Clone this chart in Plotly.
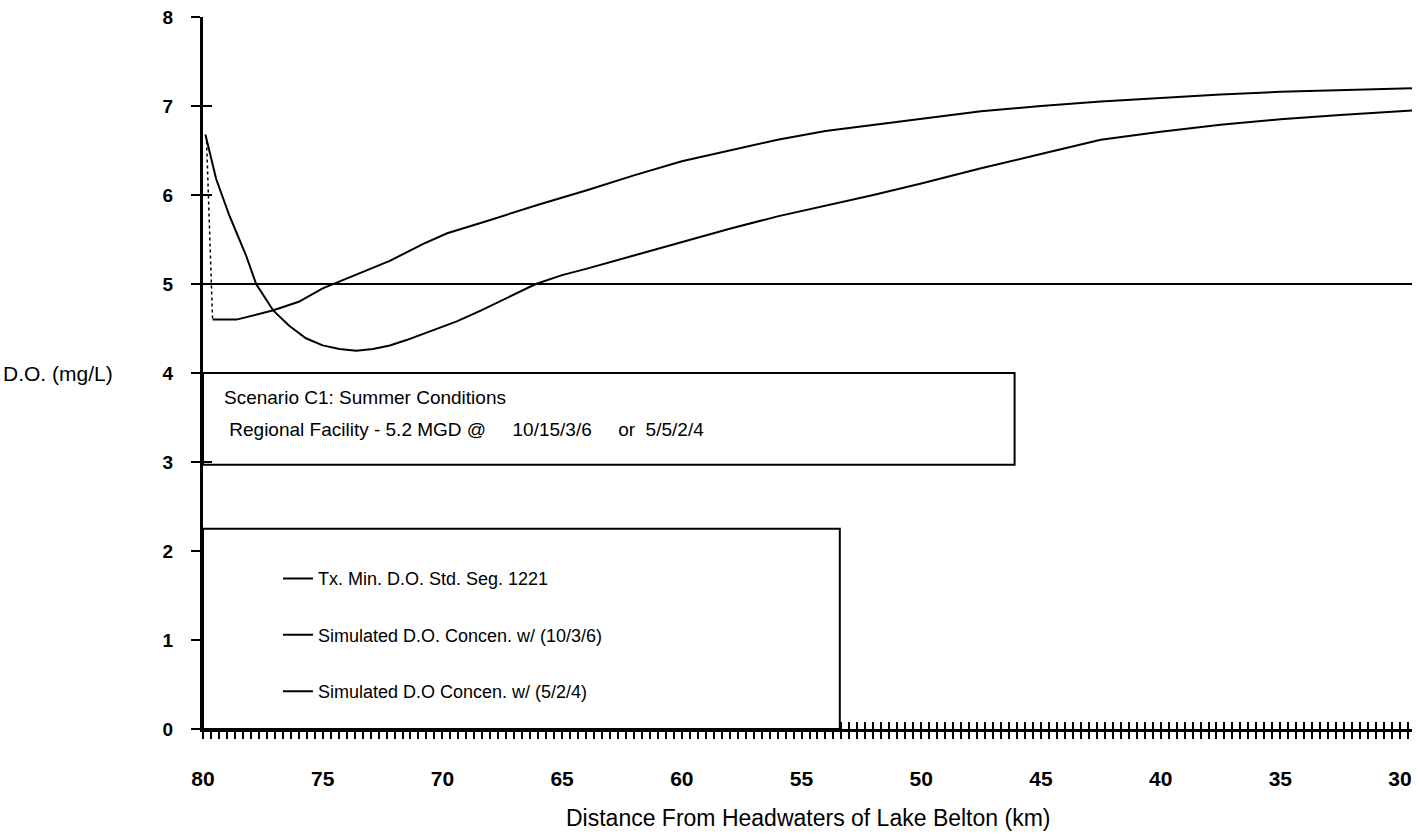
import plotly.graph_objects as go

# Distance from headwaters (km) and dissolved oxygen (mg/L)
km_std = [80.0, 29.5]
do_std = [5.0, 5.0]

km_a = [79.9, 79.45, 78.9, 78.2, 77.78, 77.06, 76.4, 75.7, 75.0, 74.3, 73.6, 72.9,
        72.2, 71.5, 70.8, 70.1, 69.4, 68.4, 67.3, 66.1, 65.0, 64.0, 62.0, 60.0,
        58.0, 56.0, 54.0, 52.0, 50.0, 47.5, 45.0, 42.5, 40.0, 37.5, 35.0, 32.5,
        30.0, 29.5]
do_a = [6.68, 6.18, 5.77, 5.32, 5.0, 4.70, 4.53, 4.39, 4.31, 4.27, 4.25, 4.27,
        4.31, 4.37, 4.44, 4.51, 4.58, 4.70, 4.84, 5.0, 5.1, 5.17, 5.32, 5.47,
        5.62, 5.76, 5.88, 6.0, 6.13, 6.3, 6.46, 6.62, 6.71, 6.79, 6.85, 6.9,
        6.94, 6.95]

km_b_drop = [79.85, 79.6]
do_b_drop = [6.6, 4.6]

km_b = [79.6, 78.6, 77.06, 76.0, 75.0, 74.56, 73.6, 72.2, 70.8, 69.8, 68.0, 66.0,
        64.0, 62.0, 60.0, 58.0, 56.0, 54.0, 52.0, 50.0, 47.5, 45.0, 42.5, 40.0,
        37.5, 35.0, 32.5, 30.0, 29.5]
do_b = [4.6, 4.6, 4.705, 4.80, 4.95, 5.0, 5.10, 5.26, 5.45, 5.57, 5.72, 5.89,
        6.05, 6.22, 6.38, 6.5, 6.62, 6.72, 6.79, 6.86, 6.94, 7.0, 7.05, 7.09,
        7.13, 7.16, 7.18, 7.2, 7.2]

x_tickvals = [80, 75, 70, 65, 60, 55, 50, 45, 40, 35, 30]
y_tickvals = [0, 1, 2, 3, 4, 5, 6, 7, 8]
x_minor_step = 1 / 3

scenario_box = dict(x0=80.0, x1=46.1, y0=2.97, y1=4.0)
legend_box = dict(x0=80.0, x1=53.4, y0=0.0, y1=2.25)

FONT = "Liberation Sans, Arial, sans-serif"
INK = "black"

fig = go.Figure()

fig.add_trace(go.Scatter(
    x=km_std, y=do_std, mode="lines", name="Tx. Min. D.O. Std. Seg. 1221",
    line=dict(color=INK, width=2), legendgroup="g1",
    xaxis="x2", yaxis="y2", hoverinfo="skip"))
fig.add_trace(go.Scatter(
    x=km_a, y=do_a, mode="lines", name="Simulated D.O. Concen. w/ (10/3/6)",
    line=dict(color=INK, width=2), legendgroup="g2"))
fig.add_trace(go.Scatter(
    x=km_b, y=do_b, mode="lines", name="Simulated D.O Concen. w/ (5/2/4)",
    line=dict(color=INK, width=2), legendgroup="g3"))
fig.add_trace(go.Scatter(
    x=km_b_drop, y=do_b_drop, mode="lines", showlegend=False,
    line=dict(color=INK, width=1.5, dash="dot"), legendgroup="g3"))

axis_common = dict(showgrid=False, zeroline=False, color=INK)

fig.update_layout(
    width=1419, height=834,
    margin=dict(l=203, r=7, t=14, b=105),
    paper_bgcolor="white", plot_bgcolor="white",
    font=dict(family=FONT, color=INK, size=18),
    xaxis=dict(
        **axis_common, range=[80, 29.5], showline=True, linewidth=3, linecolor=INK,
        tickmode="array", tickvals=x_tickvals, ticks="outside", ticklen=7,
        tickwidth=1.5, tickcolor=INK, ticklabelstandoff=22,
        tickfont=dict(family=FONT, size=21, weight="bold"),
        minor=dict(dtick=x_minor_step, tick0=80, ticks="outside", ticklen=7,
                   tickwidth=1.5, tickcolor=INK)),
    yaxis=dict(
        **axis_common, range=[0, 8], showline=True, linewidth=3, linecolor=INK,
        tickmode="array", tickvals=y_tickvals, ticks="outside", ticklen=9,
        tickwidth=2, tickcolor=INK, ticklabelstandoff=14,
        tickfont=dict(family=FONT, size=19, weight="bold")),
    xaxis2=dict(
        **axis_common, range=[80, 29.5], overlaying="x", anchor="y", side="bottom",
        showline=False, showticklabels=False,
        tickmode="array", tickvals=x_tickvals, ticks="inside", ticklen=7,
        tickwidth=1.5, tickcolor=INK,
        minor=dict(dtick=x_minor_step, tick0=80, ticks="inside", ticklen=7,
                   tickwidth=1.5, tickcolor=INK)),
    yaxis2=dict(
        **axis_common, range=[0, 8], overlaying="y", anchor="x", side="left",
        showline=False, showticklabels=False,
        tickmode="array", tickvals=y_tickvals, ticks="inside", ticklen=9,
        tickwidth=2, tickcolor=INK),
    legend=dict(
        x=0.062, y=0.237, xanchor="left", yanchor="top",
        bgcolor="rgba(0,0,0,0)", borderwidth=0, tracegroupgap=30,
        font=dict(family=FONT, size=18, color=INK), itemwidth=30),
    showlegend=True,
)

fig.add_shape(type="rect", xref="x", yref="y", layer="above",
              line=dict(color=INK, width=2), fillcolor="rgba(0,0,0,0)",
              **scenario_box)
fig.add_shape(type="rect", xref="x", yref="y", layer="above",
              line=dict(color=INK, width=2), fillcolor="white",
              **legend_box)

fig.add_annotation(x=79.2, y=3.73, xref="x", yref="y", xanchor="left",
                   yanchor="middle", showarrow=False,
                   text="Scenario C1: Summer Conditions",
                   font=dict(family=FONT, size=19, color=INK))
fig.add_annotation(x=79.2, y=3.36, xref="x", yref="y", xanchor="left",
                   yanchor="middle", showarrow=False,
                   text=" Regional Facility - 5.2 MGD @     10/15/3/6     or  5/5/2/4",
                   font=dict(family=FONT, size=19, color=INK))

fig.add_annotation(x=-0.167, y=4, xref="paper", yref="y", xanchor="left",
                   yanchor="middle", showarrow=False, text="D.O. (mg/L)",
                   font=dict(family=FONT, size=21, color=INK))
fig.add_annotation(x=0.5, y=-0.1245, xref="paper", yref="paper",
                   xanchor="center", yanchor="middle", showarrow=False,
                   text="Distance From Headwaters of Lake Belton (km)",
                   font=dict(family=FONT, size=23, color=INK))

fig.write_html("out.html")
